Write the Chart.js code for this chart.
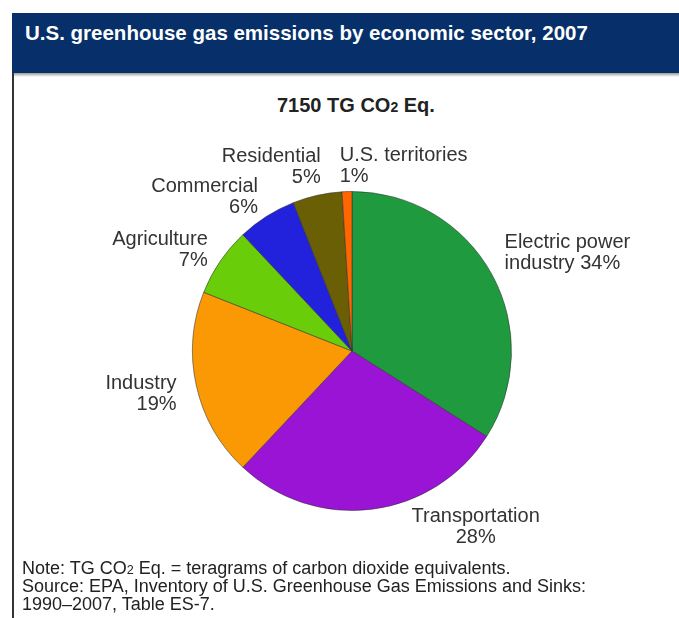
<!DOCTYPE html>
<html>
<head>
<meta charset="utf-8">
<script src="https://cdn.jsdelivr.net/npm/chart.js@4.4.0/dist/chart.umd.min.js"></script>
<style>
  body { margin: 0; background: #fff; font-family: "Liberation Sans", Arial, sans-serif; }
  #page { position: relative; width: 679px; height: 618px; overflow: hidden; }
  #header { position: absolute; left: 12px; top: 13px; width: 680px; height: 60px; background: #07306a; }
  #header span { position: absolute; left: 13px; top: 8px; color: #fff; font-weight: bold; font-size: 20.5px; }
  #shadow { position: absolute; left: 13px; top: 73px; width: 680px; height: 4px; background: linear-gradient(#9a9a9a, #fff); }
  #leftline { position: absolute; left: 12px; top: 73px; width: 2px; height: 560px; background: #333; }
  #title { position: absolute; left: 277px; top: 94px; font-weight: bold; font-size: 20px; color: #222; }
  #title sub, #notes sub { font-size: 0.7em; vertical-align: 0; line-height: 0; }
  #notes { position: absolute; left: 22px; top: 559px; font-size: 18px; line-height: 18px; color: #222; }
  canvas { position: absolute; left: 0; top: 0; }
</style>
</head>
<body>
<div id="page">
  <div id="header"><span>U.S. greenhouse gas emissions by economic sector, 2007</span></div>
  <div id="shadow"></div>
  <div id="leftline"></div>
  <div id="title">7150 TG CO<sub>2</sub> Eq.</div>
  <canvas id="myChart" width="679" height="618"></canvas>
  <div id="notes">
    Note: TG CO<sub>2</sub> Eq. = teragrams of carbon dioxide equivalents.<br>
    Source: EPA, Inventory of U.S. Greenhouse Gas Emissions and Sinks:<br>
    1990–2007, Table ES-7.
  </div>
</div>
<script>
const sectors = ["Electric power industry", "Transportation", "Industry", "Agriculture", "Commercial", "Residential", "U.S. territories"];
const shares = [34, 28, 19, 7, 6, 5, 1];
const labelLines = [
    ["Electric power", "industry 34%"],
    ["Transportation", "28%"],
    ["Industry", "19%"],
    ["Agriculture", "7%"],
    ["Commercial", "6%"],
    ["Residential", "5%"],
    ["U.S. territories", "1%"]
];
const colors = ["#1f9a3e", "#9a14d6", "#fb9905", "#6acd0a", "#2222dd", "#6a5f05", "#ff6600"];

// where each label sits: text align, angle shift (deg) from slice middle, gap past the rim
const placement = [
    { align: "left", shift: -4, gap: 22 },
    { align: "center", shift: -28, gap: 55 },
    { align: "right", shift: -1, gap: 21 },
    { align: "right", shift: 1, gap: 17 },
    { align: "right", shift: 1, gap: 21 },
    { align: "right", shift: 3, gap: 28 },
    { align: "left", shift: -2, gap: 26 }
];

const sliceLabels = {
    id: "sliceLabels",
    afterDatasetsDraw(chart) {
        const ctx = chart.ctx;
        const arcs = chart.getDatasetMeta(0).data;
        ctx.save();
        ctx.font = "20px 'Liberation Sans', Arial, sans-serif";
        ctx.fillStyle = "#333";
        ctx.textBaseline = "middle";
        arcs.forEach((arc, i) => {
            const p = placement[i];
            const mid = (arc.startAngle + arc.endAngle) / 2 + p.shift * Math.PI / 180;
            const d = arc.outerRadius + p.gap;
            const x = arc.x + Math.cos(mid) * d;
            const y = arc.y + Math.sin(mid) * d;
            ctx.textAlign = p.align;
            ctx.fillText(labelLines[i][0], x, y - 10);
            ctx.fillText(labelLines[i][1], x, y + 11);
        });
        ctx.restore();
    }
};

new Chart(document.getElementById("myChart"), {
    type: "pie",
    data: {
        labels: sectors,
        datasets: [{
            data: shares,
            backgroundColor: colors,
            borderColor: "rgba(50,50,50,0.55)",
            borderWidth: 1
        }]
    },
    options: {
        responsive: false,
        animation: false,
        layout: { padding: { left: 192, right: 167, top: 191, bottom: 107 } },
        plugins: {
            legend: { display: false },
            tooltip: { enabled: false }
        }
    },
    plugins: [sliceLabels]
});
</script>
</body>
</html>
